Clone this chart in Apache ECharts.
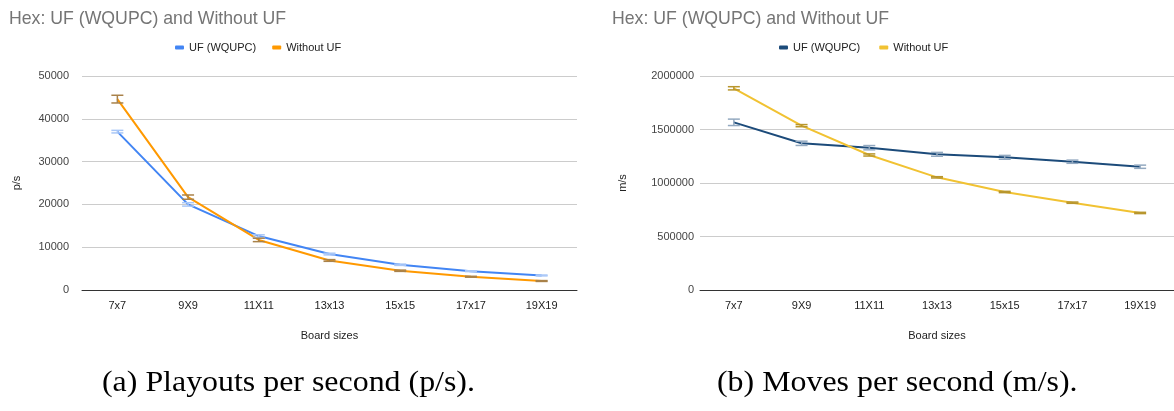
<!DOCTYPE html>
<html>
<head>
<meta charset="utf-8">
<script src="https://cdn.jsdelivr.net/npm/echarts@6/dist/echarts.min.js"></script>
<style>
html,body{margin:0;padding:0;background:#fff;}
#c{width:1174px;height:411px;}
</style>
</head>
<body>
<div id="c"></div>
<script>
// ---- data ----
var categories = ['7x7', '9X9', '11X11', '13x13', '15x15', '17x17', '19X19'];
var titleText = 'Hex: UF (WQUPC) and Without UF';
var seriesNames = ['UF (WQUPC)', 'Without UF'];

// (a) playouts per second
var psUF = [37000, 20000, 12600, 8400, 5900, 4400, 3400];
var psUFErr = [300, 400, 300, 200, 150, 100, 100];
var psNoUF = [44600, 21700, 11700, 6900, 4500, 3100, 2100];
var psNoUFErr = [900, 500, 400, 200, 150, 100, 100];
var psTicks = [0, 10000, 20000, 30000, 40000, 50000];

// (b) moves per second
var msUF = [1567000, 1371000, 1330000, 1268000, 1240000, 1199000, 1152000];
var msUFErr = [30000, 20000, 20000, 18000, 18000, 15000, 15000];
var msNoUF = [1885000, 1536000, 1262000, 1053000, 916000, 816000, 720000];
var msNoUFErr = [15000, 10000, 10000, 6000, 6000, 6000, 6000];
var msTicks = [0, 500000, 1000000, 1500000, 2000000];

var captions = ['(a) Playouts per second (p/s).', '(b) Moves per second (m/s).'];

// ---- chart ----
var chart = echarts.init(document.getElementById('c'));
var font = 'Liberation Sans, Arial, sans-serif';

function errData(vals, errs) {
  return vals.map(function (v, i) { return [i, v - errs[i], v + errs[i]]; });
}
function errSeries(vals, errs, color, idx) {
  return {
    type: 'custom', xAxisIndex: idx, yAxisIndex: idx, z: 5, silent: true,
    data: errData(vals, errs),
    renderItem: function (params, api) {
      var x = api.value(0);
      var lo = api.coord([x, api.value(1)]);
      var hi = api.coord([x, api.value(2)]);
      var hw = 6;
      var st = { stroke: color, lineWidth: 1.5 };
      return {
        type: 'group', children: [
          { type: 'line', shape: { x1: lo[0], y1: lo[1], x2: hi[0], y2: hi[1] }, style: st },
          { type: 'line', shape: { x1: lo[0] - hw, y1: lo[1], x2: lo[0] + hw, y2: lo[1] }, style: st },
          { type: 'line', shape: { x1: hi[0] - hw, y1: hi[1], x2: hi[0] + hw, y2: hi[1] }, style: st }
        ]
      };
    }
  };
}
function lineSeries(name, vals, color, idx) {
  return {
    name: name, type: 'line', xAxisIndex: idx, yAxisIndex: idx, data: vals,
    showSymbol: false, symbol: 'none', z: 4,
    lineStyle: { color: color, width: 2 }, itemStyle: { color: color }
  };
}
function xAxis(idx) {
  return {
    type: 'category', gridIndex: idx, data: categories, boundaryGap: true,
    axisLine: { lineStyle: { color: '#333', width: 1 } },
    axisTick: { show: false },
    axisLabel: { color: '#222', fontFamily: font, fontSize: 11, margin: 10 },
    name: 'Board sizes', nameLocation: 'middle', nameGap: 40,
    nameTextStyle: { color: '#222', fontFamily: font, fontSize: 11 }
  };
}
function yAxis(idx, ticks, name, gap, margin) {
  return {
    type: 'value', gridIndex: idx, min: ticks[0], max: ticks[ticks.length - 1],
    interval: ticks[1] - ticks[0],
    axisLine: { show: false }, axisTick: { show: false },
    splitLine: { lineStyle: { color: '#cccccc', width: 1 } },
    axisLabel: { color: '#444', fontFamily: font, fontSize: 11, margin: margin,
      formatter: function (v) { return String(v); } },
    name: name, nameLocation: 'middle', nameGap: gap, nameRotate: 90,
    nameTextStyle: { color: '#222', fontFamily: font, fontSize: 11 }
  };
}

var cBlue = '#4285f4', cOrange = '#ff9900', cNavy = '#1c4b7a', cYellow = '#f1c232';
var titleStyle = { color: '#757575', fontSize: 17.7, fontWeight: 'normal', fontFamily: font };
var legendText = { color: '#222', fontFamily: font, fontSize: 11 };

chart.setOption({
  animation: false,
  backgroundColor: '#fff',
  title: [
    { text: titleText, left: 4, top: 5, textStyle: titleStyle },
    { text: titleText, left: 607, top: 5, textStyle: titleStyle }
  ],
  legend: [
    { data: seriesNames.slice(), left: 170, top: 37,
      icon: 'roundRect', itemWidth: 9, itemHeight: 4, itemGap: 16,
      textStyle: legendText, selectedMode: false },
    { data: seriesNames.map(function (n) { return n + ' '; }), left: 774, top: 37,
      icon: 'roundRect', itemWidth: 9, itemHeight: 4, itemGap: 16,
      textStyle: legendText, selectedMode: false }
  ],
  grid: [
    { left: 82, top: 76, width: 495, height: 214 },
    { left: 700, top: 76, width: 482, height: 214 }
  ],
  xAxis: [xAxis(0), xAxis(1)],
  yAxis: [yAxis(0, psTicks, 'p/s', 60, 13), yAxis(1, msTicks, 'm/s', 72, 6)],
  series: [
    lineSeries(seriesNames[0], psUF, cBlue, 0),
    lineSeries(seriesNames[1], psNoUF, cOrange, 0),
    errSeries(psUF, psUFErr, '#a9c7f7', 0),
    errSeries(psNoUF, psNoUFErr, '#a9824a', 0),
    lineSeries(seriesNames[0] + ' ', msUF, cNavy, 1),
    lineSeries(seriesNames[1] + ' ', msNoUF, cYellow, 1),
    errSeries(msUF, msUFErr, '#93a9c0', 1),
    errSeries(msNoUF, msNoUFErr, '#b8962e', 1)
  ],
  graphic: [
    { type: 'text', x: 102, y: 383, scaleX: 1.1, style: { text: captions[0], fill: '#000', font: '29px "Liberation Serif", serif', textVerticalAlign: 'middle' } },
    { type: 'text', x: 717, y: 383, scaleX: 1.1, style: { text: captions[1], fill: '#000', font: '29px "Liberation Serif", serif', textVerticalAlign: 'middle' } }
  ]
});
</script>
</body>
</html>
